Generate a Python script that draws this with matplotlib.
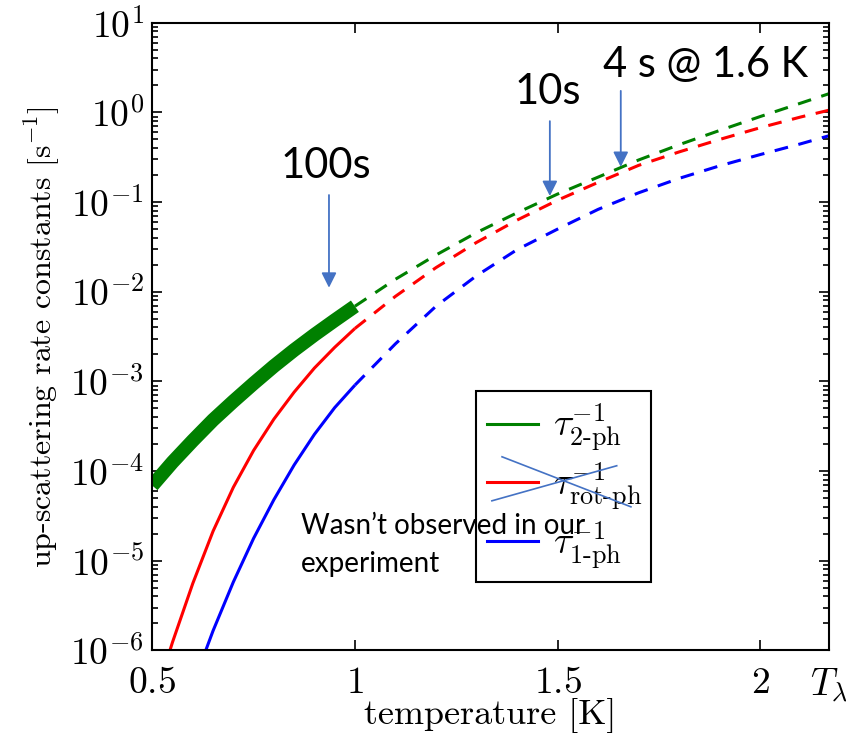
import matplotlib
matplotlib.use('Agg')
import matplotlib.pyplot as plt
import numpy as np
from matplotlib.lines import Line2D
from matplotlib.ticker import FixedLocator, FixedFormatter, LogLocator, NullFormatter

plt.rcParams['font.family'] = 'serif'
plt.rcParams['font.serif'] = ['cmr10']
plt.rcParams['mathtext.fontset'] = 'cm'
plt.rcParams['axes.formatter.use_mathtext'] = True

# temperature grid [K] and up-scattering rates [1/s]
temp = [0.5, 0.55, 0.6, 0.65, 0.7, 0.75, 0.8, 0.85, 0.9, 0.95, 1.0,
        1.1, 1.2, 1.3, 1.4, 1.5, 1.6, 1.7, 1.8, 1.9, 2.0, 2.1, 2.17]
rate_2ph = [6.9e-5, 1.26e-4, 2.19e-4, 3.72e-4, 6.0e-4, 9.5e-4, 1.48e-3, 2.24e-3, 3.31e-3, 4.8e-3, 6.9e-3,
            1.38e-2, 2.57e-2, 4.57e-2, 7.6e-2, 0.123, 0.19, 0.295, 0.437, 0.63, 0.90, 1.27, 1.62]
rate_rot = [2.4e-7, 1.24e-6, 5.6e-6, 2.14e-5, 6.6e-5, 1.70e-4, 3.8e-4, 7.6e-4, 1.41e-3, 2.40e-3, 3.9e-3,
            8.9e-3, 1.86e-2, 3.55e-2, 6.3e-2, 0.105, 0.166, 0.257, 0.363, 0.50, 0.676, 0.89, 1.06]
rate_1ph = [1.3e-8, 7.9e-8, 4.1e-7, 1.66e-6, 5.8e-6, 1.78e-5, 4.8e-5, 1.17e-4, 2.57e-4, 5.1e-4, 9.1e-4,
            2.63e-3, 6.9e-3, 1.51e-2, 2.95e-2, 5.0e-2, 8.3e-2, 0.127, 0.184, 0.254, 0.339, 0.447, 0.55]

legend_labels = [r'$\tau^{-1}_{\mathrm{2\text{-}ph}}$',
                 r'$\tau^{-1}_{\mathrm{rot\text{-}ph}}$',
                 r'$\tau^{-1}_{\mathrm{1\text{-}ph}}$']
x_ticks = [0.5, 1.0, 1.5, 2.0, 2.17]
x_ticklabels = ['$0.5$', '$1$', '$1.5$', '$2$', r'$T_\lambda$']

# times marked with arrows: (label, temperature, arrow tip, arrow tail, text position)
marks = [('100s', 0.936, 0.0111, 0.120, 0.253),
         ('10s', 1.481, 0.117, 0.80, 1.69),
         ('4 s @ 1.6 K', 1.656, 0.247, 1.74, 3.39)]
mark_text_x = [0.929, 1.476, 1.866]

GREEN, RED, BLUE = '#008000', '#ff0000', '#0000ff'
NOTE = '#4472c4'

fig = plt.figure(figsize=(8.46, 7.35), dpi=100)
ax = fig.add_axes([0.180, 0.115, 0.800, 0.854])

t = np.array(temp)
solid = t <= 1.0
dashed = t >= 1.0
dash = (0, (4.5, 3.5))
for rates, c, lw_solid in [(rate_2ph, GREEN, 10), (rate_rot, RED, 2.2), (rate_1ph, BLUE, 2.2)]:
    r = np.array(rates)
    ax.plot(t[solid], r[solid], color=c, lw=lw_solid, solid_capstyle='butt')
    ax.plot(t[dashed], r[dashed], color=c, lw=2.2, linestyle=dash)

ax.set_yscale('log')
ax.set_xlim(0.5, 2.17)
ax.set_ylim(1e-6, 1e1)
ax.xaxis.set_major_locator(FixedLocator(x_ticks))
ax.xaxis.set_major_formatter(FixedFormatter(x_ticklabels))
ax.yaxis.set_major_locator(LogLocator(base=10, numticks=20))
ax.yaxis.set_minor_locator(LogLocator(base=10, subs=np.arange(2, 10), numticks=20))
ax.yaxis.set_minor_formatter(NullFormatter())
ax.tick_params(which='both', direction='in', top=True, right=True, labelsize=27, width=1.2)
ax.tick_params(which='major', length=7)
ax.tick_params(axis='y', which='major', pad=6)
ax.tick_params(axis='x', which='major', pad=12)
ax.tick_params(which='minor', length=4)
for s in ax.spines.values():
    s.set_linewidth(1.5)

ax.set_xlabel('temperature [K]', fontsize=26, labelpad=-5)
ax.set_ylabel('up-scattering rate constants [s$^{-1}$]', fontsize=23, labelpad=6)

handles = [Line2D([], [], color=c, lw=2.2) for c in (GREEN, RED, BLUE)]
leg = ax.legend(handles, legend_labels, loc='lower left', bbox_to_anchor=(0.478, 0.109, 0.259, 0.308),
                mode='expand', fontsize=27, fancybox=False, framealpha=1, edgecolor='black',
                handlelength=1.35, labelspacing=0.2, borderpad=0.3, handletextpad=0.4,
                borderaxespad=0)
leg.get_frame().set_linewidth(1.5)

for (label, tx, tip, tail, ty), lx in zip(marks, mark_text_x):
    ax.annotate('', xy=(tx, tip), xytext=(tx, tail), annotation_clip=False,
                arrowprops=dict(arrowstyle='-|>,head_length=0.9,head_width=0.45',
                                color=NOTE, lw=1.3, shrinkA=0, shrinkB=0))
    ax.text(lx, ty, label, ha='center', va='center', fontsize=30, family='Lato',
            clip_on=False)

# crossed-out rotational channel in the legend
ax.plot([1.363, 1.681], [10**-3.84, 10**-4.398], color=NOTE, lw=1.2, zorder=6)
ax.plot([1.338, 1.646], [10**-4.331, 10**-3.94], color=NOTE, lw=1.2, zorder=6)
ax.text(0.867, 1.5e-5, "Wasn\u2019t observed in our\nexperiment", ha='left', va='center',
        fontsize=20, family='Lato', linespacing=1.55, zorder=7)

fig.savefig('out.png', dpi=100)
